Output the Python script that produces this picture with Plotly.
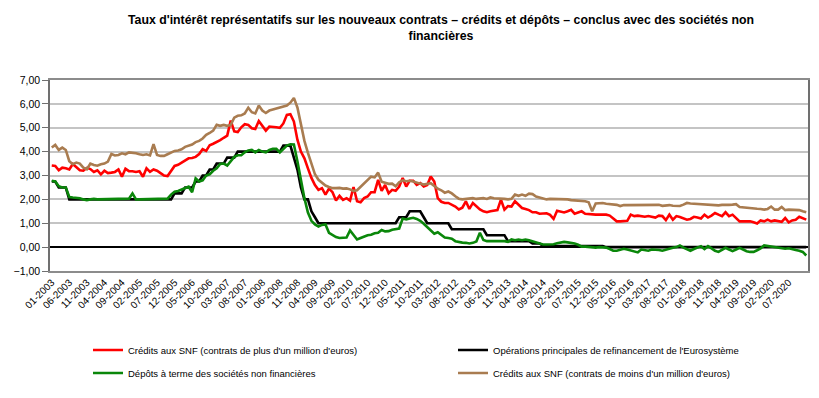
import plotly.graph_objects as go

# monthly observations, 01-2003 .. 12-2020 (one row per year)
credits_plus_1m = [
    3.42, 3.40, 3.22, 3.33, 3.30, 3.25, 3.48, 3.35, 3.22, 3.20, 3.32, 3.27,
    3.15, 3.22, 3.05, 3.20, 3.10, 3.12, 3.15, 3.25, 2.95, 3.28, 3.18, 3.18,
    3.15, 3.18, 2.95, 3.30, 3.15, 3.25, 3.20, 3.10, 3.00, 2.98, 3.22, 3.40,
    3.45, 3.55, 3.65, 3.72, 3.73, 3.78, 3.90, 4.10, 4.03, 4.27, 4.33, 4.40,
    4.48, 4.58, 4.67, 5.30, 4.85, 4.82, 5.02, 5.15, 5.12, 4.98, 4.95, 5.28,
    5.10, 4.88, 5.05, 5.05, 5.02, 5.00, 5.18, 5.54, 5.57, 5.26, 4.50, 4.00,
    3.72, 3.30, 2.90, 2.60, 2.40, 2.47, 2.20, 2.45, 2.30, 1.95, 2.15, 1.98,
    2.05, 1.95, 2.52, 1.92, 1.88, 2.05, 2.12, 2.30, 2.30, 2.82, 2.36, 2.60,
    2.26, 2.40, 2.36, 2.54, 2.90, 2.54, 2.78, 2.78, 2.61, 2.68, 2.54, 2.60,
    2.96, 2.75, 2.05, 1.90, 1.85, 1.85, 1.78, 1.70, 1.58, 1.65, 1.92, 1.60,
    1.85, 1.72, 1.58, 1.50, 1.46, 1.50, 1.52, 1.55, 1.99, 1.57, 1.72, 1.70,
    1.92, 1.78, 1.64, 1.60, 1.55, 1.46, 1.46, 1.40, 1.40, 1.42, 1.35, 1.18,
    1.52, 1.50, 1.45, 1.50, 1.56, 1.40, 1.45, 1.50, 1.40, 1.38, 1.36, 1.36,
    1.36, 1.36, 1.36, 1.32, 1.18, 1.08, 1.08, 1.08, 1.10, 1.36, 1.30, 1.32,
    1.30, 1.27, 1.30, 1.28, 1.24, 1.32, 1.30, 1.13, 1.36, 1.15, 1.30, 1.26,
    1.22, 1.15, 1.18, 1.27, 1.24, 1.20, 1.36, 1.24, 1.32, 1.43, 1.36, 1.30,
    1.46, 1.30, 1.36, 1.22, 1.08, 1.08, 1.08, 1.08, 1.04, 0.99, 1.12, 1.08,
    1.15, 1.08, 1.12, 1.08, 1.06, 1.22, 1.04, 1.12, 1.15, 1.27, 1.22, 1.15,
]

refinancement_bce = [
    2.75, 2.75, 2.50, 2.50, 2.50, 2.00, 2.00, 2.00, 2.00, 2.00, 2.00, 2.00,
    2.00, 2.00, 2.00, 2.00, 2.00, 2.00, 2.00, 2.00, 2.00, 2.00, 2.00, 2.00,
    2.00, 2.00, 2.00, 2.00, 2.00, 2.00, 2.00, 2.00, 2.00, 2.00, 2.00, 2.25,
    2.25, 2.25, 2.50, 2.50, 2.50, 2.75, 2.75, 3.00, 3.00, 3.25, 3.25, 3.50,
    3.50, 3.50, 3.75, 3.75, 3.75, 4.00, 4.00, 4.00, 4.00, 4.00, 4.00, 4.00,
    4.00, 4.00, 4.00, 4.00, 4.00, 4.00, 4.25, 4.25, 4.25, 3.75, 3.25, 2.50,
    2.00, 2.00, 1.50, 1.25, 1.00, 1.00, 1.00, 1.00, 1.00, 1.00, 1.00, 1.00,
    1.00, 1.00, 1.00, 1.00, 1.00, 1.00, 1.00, 1.00, 1.00, 1.00, 1.00, 1.00,
    1.00, 1.00, 1.00, 1.25, 1.25, 1.25, 1.50, 1.50, 1.50, 1.50, 1.25, 1.00,
    1.00, 1.00, 1.00, 1.00, 1.00, 1.00, 0.75, 0.75, 0.75, 0.75, 0.75, 0.75,
    0.75, 0.75, 0.75, 0.75, 0.50, 0.50, 0.50, 0.50, 0.50, 0.50, 0.25, 0.25,
    0.25, 0.25, 0.25, 0.25, 0.25, 0.15, 0.15, 0.15, 0.05, 0.05, 0.05, 0.05,
    0.05, 0.05, 0.05, 0.05, 0.05, 0.05, 0.05, 0.05, 0.05, 0.05, 0.05, 0.05,
    0.05, 0.05, 0.00, 0.00, 0.00, 0.00, 0.00, 0.00, 0.00, 0.00, 0.00, 0.00,
    0.00, 0.00, 0.00, 0.00, 0.00, 0.00, 0.00, 0.00, 0.00, 0.00, 0.00, 0.00,
    0.00, 0.00, 0.00, 0.00, 0.00, 0.00, 0.00, 0.00, 0.00, 0.00, 0.00, 0.00,
    0.00, 0.00, 0.00, 0.00, 0.00, 0.00, 0.00, 0.00, 0.00, 0.00, 0.00, 0.00,
    0.00, 0.00, 0.00, 0.00, 0.00, 0.00, 0.00, 0.00, 0.00, 0.00, 0.00, 0.00,
]

depots_a_terme = [
    2.78, 2.75, 2.55, 2.50, 2.50, 2.10, 2.08, 2.07, 2.05, 2.00, 1.97, 2.00,
    2.02, 2.00, 2.00, 2.00, 2.00, 2.01, 2.00, 2.00, 2.02, 2.02, 2.03, 2.25,
    2.00, 2.00, 2.00, 2.00, 2.01, 2.02, 2.02, 2.03, 2.00, 2.03, 2.20, 2.32,
    2.35, 2.40, 2.45, 2.53, 2.30, 2.88, 2.75, 2.80, 3.00, 3.05, 3.20, 3.30,
    3.48, 3.50, 3.42, 3.62, 3.78, 3.85, 3.85, 3.97, 4.05, 4.07, 3.97, 4.07,
    4.00, 3.97, 4.07, 4.12, 4.12, 3.97, 4.10, 4.25, 4.31, 4.30, 3.60, 2.75,
    2.05, 1.45, 1.10, 0.95, 0.86, 0.93, 0.95, 0.60, 0.52, 0.42, 0.38, 0.38,
    0.40, 0.70, 0.50, 0.32, 0.38, 0.45, 0.50, 0.52, 0.58, 0.60, 0.72, 0.66,
    0.67, 0.73, 0.77, 0.78, 1.20, 1.16, 1.20, 1.23, 1.18, 1.10, 0.98, 0.85,
    0.70, 0.56, 0.62, 0.50, 0.40, 0.38, 0.35, 0.25, 0.21, 0.19, 0.18, 0.15,
    0.18, 0.24, 0.60, 0.30, 0.25, 0.25, 0.27, 0.25, 0.25, 0.25, 0.22, 0.32,
    0.29, 0.32, 0.29, 0.32, 0.29, 0.25, 0.21, 0.15, 0.11, 0.11, 0.10, 0.12,
    0.16, 0.18, 0.22, 0.20, 0.18, 0.15, 0.10, 0.02, 0.02, 0.00, -0.02, -0.02,
    0.00, 0.00, -0.02, -0.08, -0.15, -0.15, -0.10, -0.07, -0.10, -0.15, -0.18, -0.22,
    -0.10, -0.12, -0.15, -0.10, -0.10, -0.12, -0.15, -0.10, -0.05, -0.03, 0.00, 0.07,
    -0.02, -0.10, -0.15, -0.08, -0.02, 0.04, -0.08, 0.04, -0.05, -0.15, -0.20, -0.10,
    -0.03, -0.10, -0.17, -0.10, -0.03, -0.10, -0.17, -0.20, -0.20, -0.13, -0.05, 0.07,
    0.05, 0.02, 0.00, -0.02, -0.05, -0.07, -0.05, -0.10, -0.12, -0.15, -0.20, -0.35,
]

credits_moins_1m = [
    4.17, 4.28, 4.07, 4.17, 4.07, 3.60, 3.47, 3.54, 3.50, 3.33, 3.26, 3.50,
    3.44, 3.41, 3.47, 3.50, 3.58, 3.90, 3.84, 3.86, 3.93, 3.89, 3.97, 3.96,
    3.93, 3.89, 3.86, 3.89, 3.84, 4.31, 3.86, 3.82, 3.82, 3.89, 3.97, 4.03,
    4.05, 4.10, 4.20, 4.25, 4.30, 4.40, 4.45, 4.55, 4.70, 4.78, 4.88, 5.12,
    5.08, 5.12, 5.08, 5.12, 5.42, 5.50, 5.52, 5.60, 5.84, 5.65, 5.60, 5.93,
    5.72, 5.62, 5.72, 5.76, 5.80, 5.84, 5.87, 5.93, 6.05, 6.25, 5.85, 5.10,
    4.45, 3.95, 3.45, 3.05, 2.82, 2.68, 2.58, 2.52, 2.47, 2.47, 2.48, 2.45,
    2.46, 2.42, 2.35, 2.38, 2.52, 2.66, 2.80, 2.95, 2.92, 3.12, 2.74, 2.68,
    2.65, 2.66, 2.55, 2.72, 2.80, 2.76, 2.78, 2.75, 2.72, 2.66, 2.62, 2.66,
    2.68, 2.56, 2.45, 2.38, 2.28, 2.33, 2.25, 2.13, 2.03, 2.00, 2.02, 2.02,
    2.05, 2.02, 2.03, 2.05, 2.02, 2.08, 2.05, 2.05, 2.05, 2.02, 2.00, 2.02,
    2.20, 2.15, 2.20, 2.15, 2.24, 2.22, 2.12, 2.08, 2.05, 2.00, 2.02, 2.02,
    1.99, 2.00, 2.00, 2.00, 1.97, 1.96, 1.95, 1.94, 1.92, 1.88, 1.50, 1.83,
    1.85, 1.85, 1.82, 1.80, 1.80, 1.77, 1.72, 1.76, 1.76, 1.76, 1.77, 1.74,
    1.76, 1.77, 1.77, 1.76, 1.77, 1.77, 1.73, 1.75, 1.76, 1.73, 1.71, 1.72,
    1.78, 1.85, 1.83, 1.82, 1.80, 1.78, 1.78, 1.78, 1.77, 1.76, 1.75, 1.77,
    1.76, 1.77, 1.78, 1.80, 1.68, 1.66, 1.64, 1.64, 1.62, 1.61, 1.60, 1.57,
    1.60, 1.70, 1.57, 1.57, 1.68, 1.55, 1.57, 1.57, 1.55, 1.55, 1.50, 1.46,
]

# category labels (MM-YYYY), one per month
months = [f"{m:02d}-{y}" for y in range(2003, 2021) for m in range(1, 13)]

# tick labels shown on the axis (every 5 months)
tick_labels = [
    "01-2003", "06-2003", "11-2003", "04-2004", "09-2004", "02-2005", "07-2005",
    "12-2005", "05-2006", "10-2006", "03-2007", "08-2007", "01-2008", "06-2008",
    "11-2008", "04-2009", "09-2009", "02-2010", "07-2010", "12-2010", "05-2011",
    "10-2011", "03-2012", "08-2012", "01-2013", "06-2013", "11-2013", "04-2014",
    "09-2014", "02-2015", "07-2015", "12-2015", "05-2016", "10-2016", "03-2017",
    "08-2017", "01-2018", "06-2018", "11-2018", "04-2019", "09-2019", "02-2020",
    "07-2020",
]

# y-axis tick values
y_ticks = [-1, 0, 1, 2, 3, 4, 5, 6, 7]

series_names = [
    "Crédits aux SNF (contrats de plus d'un million d'euros)",
    "Opérations principales de refinancement de l'Eurosystème",
    "Dépôts à terme des sociétés non financières",
    "Crédits aux SNF (contrats de moins d'un million d'euros)",
]

FONT = "Liberation Sans, Arial, sans-serif"
W, H = 819, 398
L, R, T, B = 50, 11, 80, 127

fig = go.Figure()

# (name, values, colour, legend); black drawn first so green lies over it
series = [
    (series_names[1], refinancement_bce, "#000000", "legend"),
    (series_names[0], credits_plus_1m, "#ff0000", "legend"),
    (series_names[2], depots_a_terme, "#0a870a", "legend2"),
    (series_names[3], credits_moins_1m, "#a97c50", "legend2"),
]
ranks = {n: i + 1 for i, n in enumerate(series_names)}
for name, vals, col, lg in series:
    fig.add_trace(go.Scatter(
        x=months, y=vals, name=name, mode="lines",
        line=dict(color=col, width=2.6),
        legend=lg, legendrank=ranks[name],
        hoverinfo="skip",
    ))

legend_common = dict(
    orientation="h", xref="container", yref="container",
    xanchor="left", yanchor="middle",
    entrywidth=320,
    font=dict(family=FONT, size=9.5, color="#000000"),
    bgcolor="rgba(0,0,0,0)", borderwidth=0,
)

fig.update_layout(
    width=W, height=H,
    margin=dict(l=L, r=R, t=T, b=B, autoexpand=False),
    paper_bgcolor="#ffffff", plot_bgcolor="#ffffff",
    separators=", ",
    font=dict(family=FONT, size=10, color="#000000"),
    title=dict(
        text="<b>Taux d'intérêt représentatifs sur les nouveaux contrats – crédits et dépôts – conclus avec des sociétés non<br>financières</b>",
        x=441 / W, xref="container", xanchor="center",
        y=1 - 24 / H, yref="container", yanchor="top",
        font=dict(family=FONT, size=12.3, color="#000000"),
    ),
    showlegend=True,
    legend=dict(x=88 / W, y=1 - 350 / H, **legend_common),
    legend2=dict(x=88 / W, y=1 - 373 / H, **legend_common),
    xaxis=dict(
        type="category", range=[-0.5, len(months) - 0.5],
        tickmode="array", tickvals=tick_labels, ticktext=tick_labels,
        tickangle=-45, ticks="",
        tickfont=dict(family=FONT, size=10, color="#000000"),
        showline=True, linecolor="#8c8c8c", linewidth=1.5, mirror=True,
        showgrid=False, zeroline=False,
    ),
    yaxis=dict(
        range=[y_ticks[0], y_ticks[-1]], tickmode="array", tickvals=y_ticks,
        tickformat=".2f",
        showline=True, linecolor="#707070", linewidth=1.5, mirror=True,
        ticks="outside", ticklen=6, tickcolor="#707070",
        showgrid=True, gridcolor="#c4c4c4", gridwidth=1.6,
        zeroline=True, zerolinecolor="#000000", zerolinewidth=2.2,
        tickfont=dict(family=FONT, size=10.5, color="#000000"),
    ),
)

fig.write_html("out.html", config={"displayModeBar": False},
               post_script="document.body.style.margin='0';")
